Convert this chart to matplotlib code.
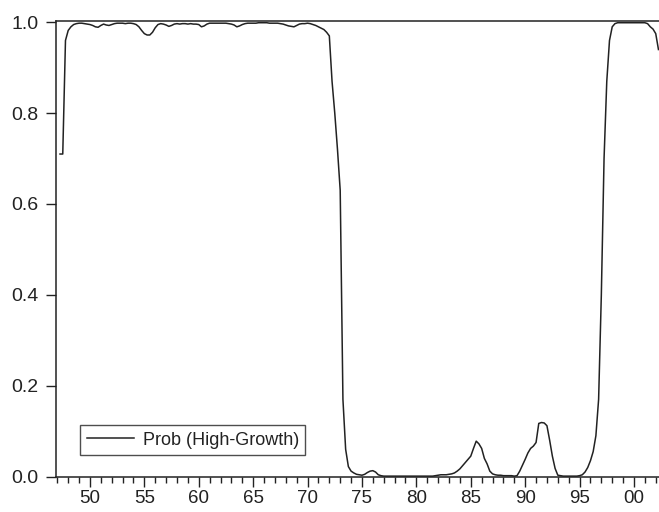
import matplotlib
matplotlib.use("Agg")
import matplotlib.pyplot as plt
import numpy as np

plt.rcParams["font.family"] = ["Liberation Sans", "DejaVu Sans"]

# quarterly probabilities, 1947Q2 .. 2002Q2
start_year = 1947.25
prob_high_growth = [
    0.71, 0.71, 0.96,                  # 1947 Q2-Q4
    0.982, 0.99, 0.995, 0.997,         # 1948
    0.998, 0.998, 0.997, 0.996,        # 1949
    0.995, 0.993, 0.99, 0.989,         # 1950
    0.993, 0.996, 0.994, 0.993,        # 1951
    0.995, 0.997, 0.998, 0.998,        # 1952
    0.998, 0.997, 0.998, 0.998,        # 1953
    0.997, 0.995, 0.99, 0.982,         # 1954
    0.975, 0.972, 0.972, 0.978,        # 1955
    0.988, 0.995, 0.997, 0.996,        # 1956
    0.994, 0.991, 0.993, 0.996,        # 1957
    0.997, 0.996, 0.997, 0.997,        # 1958
    0.996, 0.997, 0.996, 0.996,        # 1959
    0.995, 0.99, 0.992, 0.996,         # 1960
    0.998, 0.998, 0.998, 0.998,        # 1961
    0.998, 0.998, 0.998, 0.997,        # 1962
    0.996, 0.994, 0.99, 0.992,         # 1963
    0.995, 0.997, 0.998, 0.998,        # 1964
    0.998, 0.998, 0.999, 0.999,        # 1965
    0.999, 0.999, 0.998, 0.998,        # 1966
    0.998, 0.998, 0.997, 0.996,        # 1967
    0.994, 0.992, 0.991, 0.99,         # 1968
    0.993, 0.996, 0.997, 0.997,        # 1969
    0.998, 0.997, 0.995, 0.993,        # 1970
    0.99, 0.987, 0.984, 0.978,         # 1971
    0.97, 0.87, 0.80, 0.72,            # 1972
    0.63, 0.17, 0.06, 0.022,           # 1973
    0.012, 0.008, 0.005, 0.004,        # 1974
    0.003, 0.005, 0.009, 0.012,        # 1975
    0.013, 0.01, 0.004, 0.002,         # 1976
    0.001, 0.001, 0.001, 0.001,        # 1977
    0.001, 0.001, 0.001, 0.001,        # 1978
    0.001, 0.001, 0.001, 0.001,        # 1979
    0.001, 0.001, 0.001, 0.001,        # 1980
    0.001, 0.001, 0.001, 0.002,        # 1981
    0.003, 0.004, 0.004, 0.004,        # 1982
    0.005, 0.006, 0.008, 0.012,        # 1983
    0.017, 0.024, 0.031, 0.038,        # 1984
    0.045, 0.062, 0.078, 0.072,        # 1985
    0.062, 0.04, 0.028, 0.012,         # 1986
    0.006, 0.004, 0.003, 0.003,        # 1987
    0.002, 0.002, 0.002, 0.002,        # 1988
    0.001, 0.002, 0.012, 0.025,        # 1989
    0.038, 0.052, 0.062, 0.067,        # 1990
    0.075, 0.117, 0.119, 0.118,        # 1991
    0.112, 0.08, 0.045, 0.018,         # 1992
    0.003, 0.002, 0.001, 0.001,        # 1993
    0.001, 0.001, 0.001, 0.001,        # 1994
    0.002, 0.004, 0.01, 0.02,          # 1995
    0.035, 0.055, 0.09, 0.17,          # 1996
    0.40, 0.70, 0.87, 0.96,            # 1997
    0.99, 0.997, 0.999, 0.999,         # 1998
    0.999, 0.999, 0.999, 0.999,        # 1999
    0.999, 0.999, 0.999, 0.999,        # 2000
    0.999, 0.997, 0.99, 0.985,         # 2001
    0.975, 0.94,                       # 2002 Q1-Q2
]

major_years = [1950, 1955, 1960, 1965, 1970, 1975, 1980, 1985, 1990, 1995, 2000]
major_labels = ["50", "55", "60", "65", "70", "75", "80", "85", "90", "95", "00"]
minor_years = list(range(1947, 2003))
y_ticks = [0.0, 0.2, 0.4, 0.6, 0.8, 1.0]
y_labels = ["0.0", "0.2", "0.4", "0.6", "0.8", "1.0"]

dates = start_year + 0.25 * np.arange(len(prob_high_growth))

fig = plt.figure(figsize=(6.59, 5.12), dpi=100)
ax = fig.add_axes([0.0845, 0.0674, 0.9155, 0.8922])

ax.plot(dates, prob_high_growth, color="#222222", linewidth=1.1,
        label="Prob (High-Growth)")

ax.set_xlim(1946.85, 2002.3)
ax.set_ylim(-0.002, 1.0035)

ax.set_xticks(major_years)
ax.set_xticklabels(major_labels)
ax.set_xticks(minor_years, minor=True)
ax.set_yticks(y_ticks)
ax.set_yticklabels(y_labels)

ax.tick_params(axis="both", which="major", direction="out", length=7.5,
               width=1, labelsize=14, color="#222222", labelcolor="#222222")
ax.tick_params(axis="x", which="major", labelsize=13.5, pad=1.5)
ax.tick_params(axis="y", which="major", pad=5)
ax.tick_params(axis="x", which="minor", direction="out", length=4.5,
               width=1, color="#222222")

for side in ["left", "bottom", "top"]:
    ax.spines[side].set_linewidth(1.1)
    ax.spines[side].set_color("#222222")
ax.spines["right"].set_visible(False)

leg = ax.legend(loc="lower left", bbox_to_anchor=(0.041, 0.049),
                borderaxespad=0, fontsize=13, frameon=True, fancybox=False,
                handlelength=2.6, handletextpad=0.5, borderpad=0.35)
leg.get_frame().set_edgecolor("#222222")
leg.get_frame().set_linewidth(1.0)
for t in leg.get_texts():
    t.set_color("#222222")

fig.savefig("out.png", dpi=100)
